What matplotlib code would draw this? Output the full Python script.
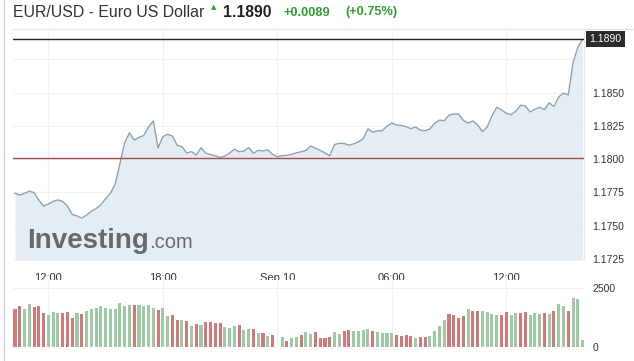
import matplotlib
matplotlib.use('Agg')
import matplotlib.pyplot as plt
import matplotlib.transforms as mtransforms
import numpy as np

plt.rcParams['font.family'] = ['Liberation Sans', 'DejaVu Sans']

# ---------------- data ----------------
title = "EUR/USD - Euro US Dollar"
last_price = 1.1890
change_txt = "+0.0089"
pct_txt = "(+0.75%)"
prev_close = 1.1801

start_hour = 10.25          # Sep 9, 10:15 (hours since Sep 9 00:00)
step_hours = 0.25           # 15-minute bars

prices = [
    1.17744, 1.17731, 1.17744, 1.17760, 1.17749, 1.17693, 1.17648, 1.17663, 1.17683, 1.17694,
    1.17683, 1.17648, 1.17585, 1.17574, 1.17558, 1.17580, 1.17609, 1.17629, 1.17658, 1.17703,
    1.17744, 1.17812, 1.17967, 1.18125, 1.18198, 1.18144, 1.18164, 1.18178, 1.18242, 1.18287,
    1.18085, 1.18169, 1.18187, 1.18174, 1.18105, 1.18095, 1.18046, 1.18057, 1.18031, 1.18085,
    1.18046, 1.18034, 1.18026, 1.18014, 1.18024, 1.18046, 1.18075, 1.18056, 1.18061, 1.18087,
    1.18044, 1.18066, 1.18062, 1.18070, 1.18036, 1.18019, 1.18026, 1.18030, 1.18036, 1.18048,
    1.18056, 1.18066, 1.18099, 1.18083, 1.18066, 1.18046, 1.18026, 1.18110, 1.18119, 1.18118,
    1.18105, 1.18115, 1.18130, 1.18154, 1.18228, 1.18203, 1.18213, 1.18214, 1.18248, 1.18272,
    1.18257, 1.18253, 1.18244, 1.18229, 1.18242, 1.18218, 1.18214, 1.18227, 1.18270, 1.18293,
    1.18289, 1.18331, 1.18339, 1.18339, 1.18291, 1.18272, 1.18287, 1.18257, 1.18208, 1.18242,
    1.18326, 1.18390, 1.18370, 1.18345, 1.18335, 1.18360, 1.18405, 1.18400, 1.18355, 1.18375,
    1.18390, 1.18372, 1.18424, 1.18395, 1.18468, 1.18496, 1.18483, 1.18723, 1.18841, 1.18900,
]

volumes = [
    1605, 1733, 1605, 1818, 1690, 1733, 1420, 1350, 1477, 1435,
    1435, 1477, 1222, 1435, 1392, 1534, 1605, 1648, 1733, 1648,
    1605, 1605, 1861, 1733, 1776, 1776, 1776, 1733, 1776, 1648,
    1562, 1648, 1307, 1350, 1136, 1136, 1094, 880, 966, 923,
    1051, 1051, 1008, 1008, 838, 795, 880, 923, 710, 753,
    753, 582, 582, 455, 497, None, 412, 241, 369, 412,
    497, 625, 540, 625, 369, 369, 412, 625, 540, 668,
    710, 668, 668, 710, 753, 668, 625, 582, 582, 582,
    497, 455, 497, 455, 369, 412, 412, 455, 668, 880,
    1136, 1392, 1350, 1222, 1307, 1605, 1520, 1520, 1520, 1477,
    1392, 1350, 1350, 1477, 1350, 1435, 1435, 1477, 1350, 1435,
    1392, 1435, 1392, 1520, 1818, 1733, 1520, 2074, 2031, 284,
]

vol_dir = (
    "rrggrrrggg" "rrrgrggggg" "gggggrgggg" "rggrrgrgrg"
    "rrrrgggrgg" "rgrgr-grgg" "rggrrrrggr" "rggggrgggg"
    "rrrrgrrggg" "grrrrgrrgg" "ggrrggrrgg" "grgrggrggg"
)

tick_hours = [12, 18, 24, 30, 36]
tick_labels = ["12:00", "18:00", "Sep 10", "06:00", "12:00"]
price_ticks = [1.1725, 1.1750, 1.1775, 1.1800, 1.1825, 1.1850, 1.1875]
price_tick_labels = ["1.1725", "1.1750", "1.1775", "1.1800", "1.1825", "1.1850", ""]
vol_ticks = [0, 2500]

# ---------------- styling ----------------
W, H = 634, 361
fig = plt.figure(figsize=(W / 100, H / 100), dpi=100)
fig.patch.set_facecolor('white')

def fx(px):
    return px / W

def fy(py):
    return 1 - py / H

txt_color = '#333333'
green = '#2f9e2f'
line_color = '#8ca3b6'
fill_color = '#e5edf4'
red_bar = '#cf7a78'
green_bar = '#9bcaa5'
grid_color = '#f1f1f1'

hours = start_hour + step_hours * np.arange(len(prices))
x_left = start_hour - 0.105
x_right = hours[-1] + 0.075

# price axes
ax = fig.add_axes([fx(13), fy(260), fx(584) - fx(13), fy(30) - fy(260)])
ylo, yhi = 1.172432, 1.189700
ax.set_xlim(x_left, x_right)
ax.set_ylim(ylo, yhi)
ax.fill_between(hours, prices, ylo, color=fill_color, lw=0, zorder=1)
ax.plot(hours, prices, color=line_color, lw=1.0, zorder=3)
ax.axhline(prev_close, color='#aa4a48', lw=1.0, zorder=4)
ax.axhline(last_price, color='#222222', lw=1.0, zorder=4)

ax.set_xticks(tick_hours)
ax.set_xticklabels(tick_labels)
ax.set_yticks(price_ticks)
ax.set_yticklabels(price_tick_labels)
ax.yaxis.tick_right()
ax.tick_params(axis='x', length=0, pad=9.5, labelsize=8, colors=txt_color)
ax.tick_params(axis='y', length=0, pad=6, labelsize=7.5, colors=txt_color)
ax.grid(True, color=grid_color, lw=0.8, zorder=0)
ax.set_axisbelow(True)
for s in ['top', 'left', 'bottom']:
    ax.spines[s].set_visible(False)
ax.spines['right'].set_color('#e8e8e8')
ax.spines['right'].set_linewidth(0.8)

trans = mtransforms.blended_transform_factory(ax.transAxes, ax.transData)
ax.annotate(f"{last_price:.4f}", xy=(1.0, last_price), xycoords=trans,
            xytext=(4, 0), textcoords='offset points', ha='left', va='center',
            fontsize=7.5, color='white', annotation_clip=False,
            bbox=dict(boxstyle='square,pad=0.3', fc='#2b2b2b', ec='none'))

# watermark
fig.text(fx(27), fy(248), "Investing", fontsize=20, fontweight='bold',
         color='#68696b', va='baseline', ha='left', zorder=5)
fig.text(fx(149), fy(248), ".com", fontsize=14.5, color='#68696b',
         va='baseline', ha='left', zorder=5)

# volume axes
ax2 = fig.add_axes([fx(13), fy(346.7), fx(584) - fx(13), fy(280) - fy(346.7)])
ax2.set_xlim(x_left, x_right)
ax2.set_ylim(0, 2841)
for h, v, d in zip(hours, volumes, vol_dir):
    if v is None:
        continue
    ax2.bar(h, v, width=0.16, color=red_bar if d == 'r' else green_bar, lw=0, zorder=2)
ax2.set_xticks(tick_hours)
ax2.set_xticklabels([])
ax2.set_yticks(vol_ticks)
ax2.set_yticklabels([str(v) for v in vol_ticks])
ax2.yaxis.tick_right()
ax2.tick_params(axis='x', length=0)
ax2.tick_params(axis='y', length=0, pad=6, labelsize=7.5, colors=txt_color)
ax2.grid(True, color=grid_color, lw=0.8, zorder=0)
ax2.set_axisbelow(True)
for s in ['top', 'left', 'bottom', 'right']:
    ax2.spines[s].set_visible(False)

# header
fig.text(fx(13), fy(12.5), title, fontsize=11.4, color=txt_color, va='center', ha='left')
fig.text(fx(214), fy(7), "\u25B2", fontsize=5, color=green, va='center', ha='center',
         family=['DejaVu Sans'])
fig.text(fx(223), fy(12.5), f"{last_price:.4f}", fontsize=11.3, fontweight='bold',
         color='#222222', va='center', ha='left')
fig.text(fx(283), fy(12.5), change_txt, fontsize=9.2, fontweight='bold',
         color=green, va='center', ha='left')
fig.text(fx(345), fy(12.5), pct_txt, fontsize=9.2, fontweight='bold',
         color=green, va='center', ha='left')

# frame lines
fig.add_artist(plt.Line2D([fx(4), fx(4)], [0, 1], color='#d4d4d4', lw=1.0))
fig.add_artist(plt.Line2D([fx(13), 1], [fy(29), fy(29)], color='#e6e6e6', lw=1.0))

fig.savefig('out.png', dpi=100, facecolor='white')
